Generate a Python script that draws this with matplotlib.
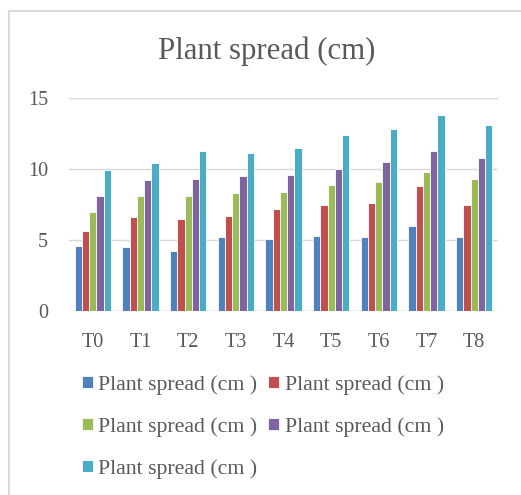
import matplotlib
matplotlib.use("Agg")
import matplotlib.pyplot as plt
from matplotlib.lines import Line2D
import numpy as np

categories = ["T0", "T1", "T2", "T3", "T4", "T5", "T6", "T7", "T8"]
series1 = [4.6, 4.5, 4.2, 5.2, 5.1, 5.3, 5.2, 6.0, 5.2]
series2 = [5.6, 6.6, 6.5, 6.7, 7.2, 7.5, 7.6, 8.8, 7.5]
series3 = [7.0, 8.1, 8.1, 8.3, 8.4, 8.9, 9.1, 9.8, 9.3]
series4 = [8.1, 9.2, 9.3, 9.5, 9.6, 10.0, 10.5, 11.3, 10.8]
series5 = [9.9, 10.4, 11.3, 11.1, 11.5, 12.4, 12.8, 13.8, 13.1]
series_labels = ["Plant spread (cm )"] * 5
yticks = [0, 5, 10, 15]
title = "Plant spread (cm)"

colors = ["#4F81BD", "#C0504D", "#9BBB59", "#8064A2", "#4BACC6"]

plt.rcParams["font.family"] = ["Liberation Serif", "DejaVu Serif"]

fig = plt.figure(figsize=(5.21, 4.95), dpi=100)
ax = fig.add_axes([69 / 521, 1 - 311 / 495, (498 - 69) / 521, (311 - 98) / 495])

x = np.arange(len(categories))
width = 0.152
all_series = [series1, series2, series3, series4, series5]
for i, (vals, c, lab) in enumerate(zip(all_series, colors, series_labels)):
    ax.bar(x + (i - 2) * width, vals, width, color=c, label=lab,
           edgecolor="white", linewidth=0.6, zorder=3)

ax.set_xlim(-0.5, len(categories) - 0.5)
ax.set_ylim(0, 15)
ax.set_yticks(yticks)
ax.set_xticks(x)
ax.set_xticklabels(categories)
for s in ax.spines.values():
    s.set_visible(False)
ax.yaxis.grid(True, color="#D9D9D9", linewidth=1.0, zorder=0)
ax.axhline(0, color="#D9D9D9", linewidth=1.0, zorder=2)
ax.tick_params(axis="both", length=0, labelsize=14.5, labelcolor="#595959")
ax.tick_params(axis="y", pad=15)
ax.tick_params(axis="x", pad=15.5)

fig.text(267 / 521, 1 - 51 / 495, title, ha="center", va="center",
         fontsize=22.2, color="#595959")

handles, labels = ax.get_legend_handles_labels()
order = [0, 2, 4, 1, 3]  # row-wise fill: blue red / green purple / cyan
handles = [handles[i] for i in order]
labels = [labels[i] for i in order]
leg = fig.legend(handles, labels, ncol=2, loc="upper left",
                 bbox_to_anchor=(82 / 521, 1 - 375 / 495),
                 frameon=False, fontsize=15.7, handlelength=0.5, handleheight=0.5,
                 handletextpad=0.25, columnspacing=0.5, labelspacing=1.02,
                 borderpad=0, borderaxespad=0)
for t in leg.get_texts():
    t.set_color("#595959")

# chart border (top and left visible)
fig.add_artist(Line2D([9 / 521, 1], [1 - 11 / 495, 1 - 11 / 495],
                      transform=fig.transFigure, color="#D9D9D9", linewidth=1.5))
fig.add_artist(Line2D([9 / 521, 9 / 521], [0, 1 - 11 / 495],
                      transform=fig.transFigure, color="#D9D9D9", linewidth=1.5))

fig.savefig("out.png", dpi=100)
